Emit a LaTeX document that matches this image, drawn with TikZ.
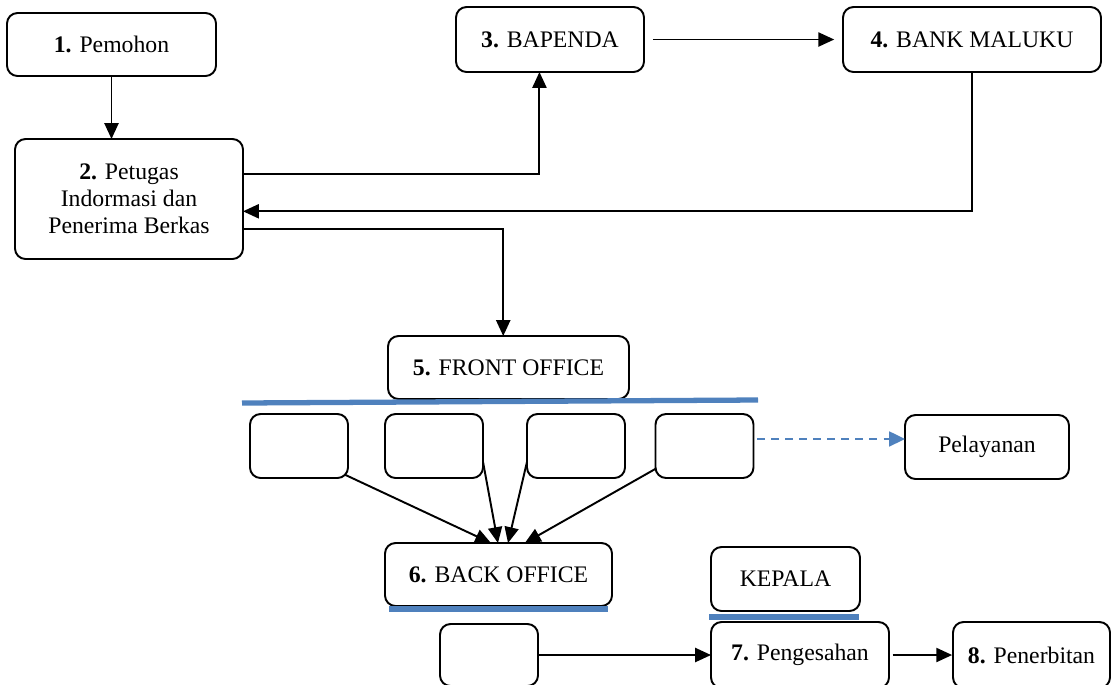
\documentclass[tikz,border=0pt]{standalone}
\usepackage{fontspec}
\setmainfont{Liberation Serif}
\usetikzlibrary{arrows.meta}
\definecolor{lineblue}{RGB}{79,129,189}
\begin{document}
\begin{tikzpicture}[x=0.02cm, y=-0.02cm, line width=1.1pt,
	box/.style={draw, rounded corners=6pt, align=center, inner sep=0pt, outer sep=0pt, font=\fontsize{13.5}{15.3}\selectfont},
	sz/.style 2 args={minimum width=#1*0.02cm, minimum height=#2*0.02cm},
	arr/.style={-{Triangle[length=9pt,width=8pt]}},
	bluebar/.style={lineblue, line width=3pt},
	dasharr/.style={lineblue, dash pattern=on 4.5pt off 3.5pt, -{Triangle[length=9pt,width=8.5pt]}}]
	\useasboundingbox (0,0) rectangle (1112,684);
	
	%top row
	\node[box, sz={209}{63}] (pemohon) at (111.5,44.5) {\textbf{1.} Pemohon};
	\node[box, sz={228}{120}] (petugas) at (129,199) {\textbf{2.} Petugas\\Indormasi dan\\Penerima Berkas};
	\node[box, sz={188}{65}] (bapenda) at (550,39.5) {\textbf{3.} BAPENDA};
	\node[box, sz={258}{65}] (bank) at (972,39.5) {\textbf{4.} BANK MALUKU};
	
	\draw[arr] (pemohon.south) -- (pemohon.south |- petugas.north);
	\draw[arr] ([yshift=14pt]petugas.east) -| ([xshift=-6pt]bapenda.south);
	\draw[arr, shorten <=5pt, shorten >=5pt] (bapenda) -- (bank);
	\draw[arr] (bank.south) |- ([yshift=-7pt]petugas.east);
	
	%front office
	\node[box, sz={241}{63}] (front) at (508.5,367.5) {\textbf{5.} FRONT OFFICE};
	\draw[arr] ([yshift=-17pt]petugas.east) -| ([xshift=-3pt]front.north);
	\draw[bluebar] (242,403) -- (758,400);
	
	\foreach \x/\n in {299/fa,434/fb,576/fc,704.5/fd}
		\node[box, sz={98}{64}] (\n) at (\x,446) {};
	
	\node[box, sz={164}{64}] (pelayanan) at (987,447) {Pelayanan};
	\draw[dasharr] ([xshift=2pt,yshift=4pt]fd.east) -- ([yshift=4pt]fd.east -| pelayanan.west);
	
	%back office
	\node[box, sz={227}{63}] (back) at (498.5,574.5) {\textbf{6.} BACK OFFICE};
	\draw[bluebar] (389,609) -- (608,609);
	
	\draw[arr] ([xshift=-2pt,yshift=2pt]fa.south east) -- ([xshift=-4.3pt]back.north);
	\draw[arr] ([yshift=-9pt]fb.east) -- ([xshift=-0.3pt]back.north);
	\draw[arr] ([yshift=-9pt]fc.west) -- ([xshift=5.4pt]back.north);
	\draw[arr] ([yshift=-13pt]fd.west) -- ([xshift=15pt]back.north);
	
	%kepala
	\node[box, sz={149}{64}] (kepala) at (785.5,579) {KEPALA};
	\draw[bluebar, line width=3.4pt] (709,617) -- (859,617);
	
	%bottom row
	\node[box, sz={98}{62}] (kosong) at (489,655) {};
	\node[box, sz={178}{66}] (sah) at (800,655) {\textbf{7.} Pengesahan};
	\node[box, sz={157}{66}] (terbit) at (1031.5,655) {\textbf{8.} Penerbitan};
	
	\draw[arr] (kosong) -- (sah);
	\draw[arr, shorten <=2pt, shorten >=0.5pt] (sah) -- (terbit);
\end{tikzpicture}
\end{document}
